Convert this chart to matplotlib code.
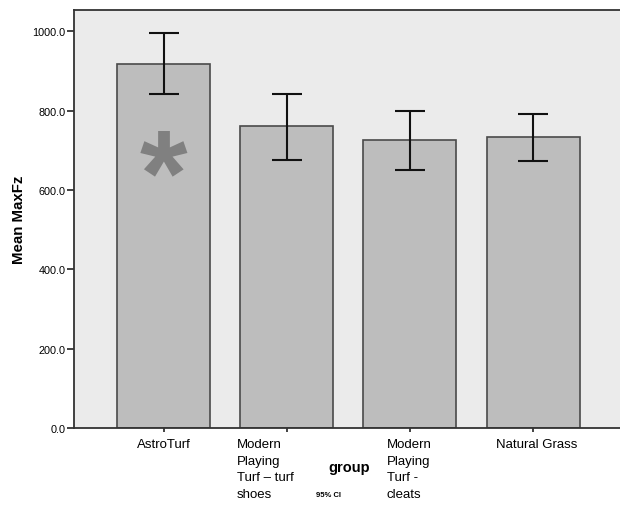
import matplotlib
matplotlib.use("Agg")
import matplotlib.pyplot as plt

plt.rcParams['font.family'] = ['Liberation Sans', 'DejaVu Sans']

categories = ["AstroTurf", "Modern\nPlaying\nTurf – turf\nshoes", "Modern\nPlaying\nTurf -\ncleats", "Natural Grass"]
means = [919, 761, 726, 733]
ci_low = [842, 677, 651, 672]
ci_high = [996, 843, 800, 793]
yticks = [0, 200, 400, 600, 800, 1000]
ytick_labels = ["0.0", "200.0", "400.0", "600.0", "800.0", "1000.0"]

fig = plt.figure(figsize=(6.2, 5.06), dpi=100)
ax = fig.add_axes([74/620, 77/506, 546/620, 418/506])
ax.set_facecolor('#ebebeb')

x = list(range(len(categories)))
ax.bar(x, means, width=0.755, color='#bdbdbd', edgecolor='#4a4a4a', linewidth=1.2, zorder=2)
yerr = [[m - l for m, l in zip(means, ci_low)], [h - m for m, h in zip(means, ci_high)]]
ax.errorbar(x, means, yerr=yerr, fmt='none', ecolor='#111111', elinewidth=1.5,
            capsize=11, capthick=1.5, zorder=3)

ax.set_xlim(-0.727, 3.705)
ax.set_ylim(0, 1054)
ax.set_yticks(yticks)
ax.set_yticklabels(ytick_labels, fontsize=7.8)
ax.tick_params(axis='y', direction='out', length=5, width=1.2, color='#222222', pad=1)
ax.set_xticks(x)
ax.set_xticklabels([])
ax.tick_params(axis='x', direction='out', length=3, width=1.2, color='#222222')

for side in ['left', 'bottom', 'top']:
    ax.spines[side].set_color('#333333')
    ax.spines[side].set_linewidth(1.3)
ax.spines['right'].set_visible(False)

ax.set_ylabel("Mean MaxFz", fontsize=10.8, fontweight='bold', labelpad=5)

# category labels (left-aligned wrapped blocks as in SPSS output)
label_offsets = [-0.215, -0.403, -0.187, -0.302]
for xi, lab, off in zip(x, categories, label_offsets):
    ax.annotate(lab, xy=(xi + off, 0), xycoords=('data', 'axes fraction'),
                xytext=(0, -7.5), textcoords='offset points',
                ha='left', va='top', fontsize=9.5, linespacing=1.5,
                multialignment='left', annotation_clip=False)

fig.text(349/620, 1 - 468/506, "group", fontsize=10.5, fontweight='bold',
         ha='center', va='center')
fig.text(329/620, 1 - 496/506, "95% CI", fontsize=5.5, fontweight='bold',
         ha='center', va='center')

# significance asterisk on AstroTurf bar
ax.text(0, 623, "*", fontsize=88, fontweight='bold', color='#808080',
        ha='center', va='center', zorder=4)

fig.savefig("out.png", dpi=100)
